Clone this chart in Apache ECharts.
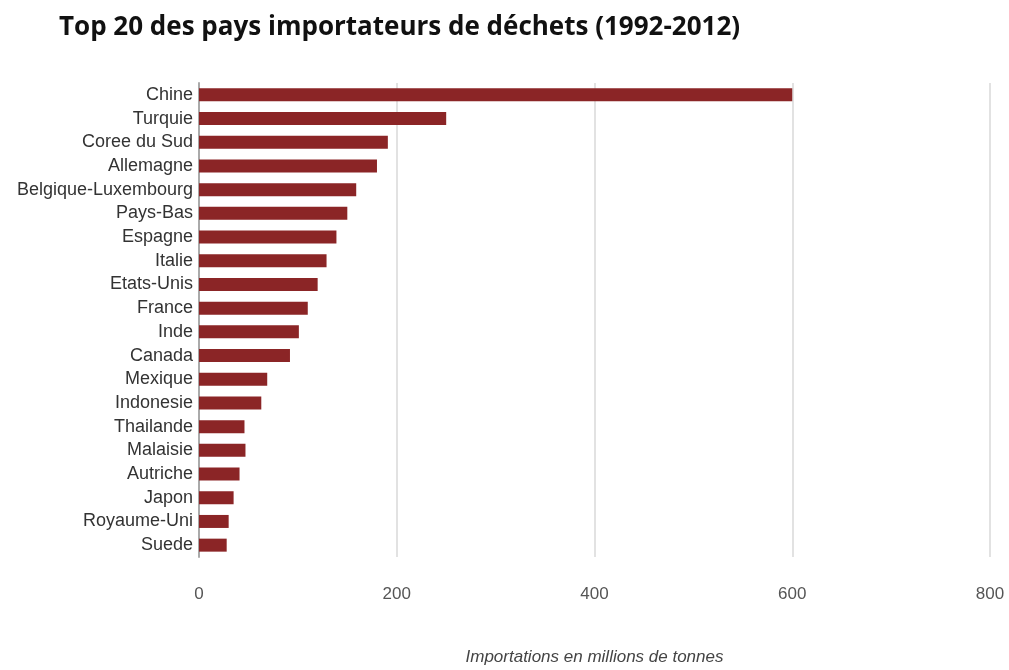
<!DOCTYPE html>
<html>
<head>
<meta charset="utf-8">
<script src="https://cdn.jsdelivr.net/npm/echarts@6/dist/echarts.min.js"></script>
<style>
  html, body { margin: 0; padding: 0; background: #fff; }
  #main { width: 1009px; height: 670px; }
</style>
</head>
<body>
<div id="main"></div>
<script>
// pays, du premier au dernier
const countries = [
  'Chine', 'Turquie', 'Coree du Sud', 'Allemagne', 'Belgique-Luxembourg',
  'Pays-Bas', 'Espagne', 'Italie', 'Etats-Unis', 'France',
  'Inde', 'Canada', 'Mexique', 'Indonesie', 'Thailande',
  'Malaisie', 'Autriche', 'Japon', 'Royaume-Uni', 'Suede'
]
// importations en millions de tonnes
const imports = [
  600, 250, 191, 180, 159,
  150, 139, 129, 120, 110,
  101, 92, 69, 63, 46,
  47, 41, 35, 30, 28
]
const xTicks = [0, 200, 400, 600, 800]

const narrow = '"Liberation Sans Narrow", "Arial Narrow", "Liberation Sans", sans-serif'

const chart = echarts.init(document.getElementById('main'))
chart.setOption({
  animation: false,
  title: {
    text: 'Top 20 des pays importateurs de déchets (1992-2012)',
    left: 54,
    top: 10,
    textStyle: {
      fontFamily: '"Open Sans", sans-serif',
      fontWeight: 'bold',
      fontSize: 26,
      color: '#111'
    }
  },
  grid: {
    left: 199,
    right: 19,
    top: 83,
    bottom: 113,
    containLabel: false,
    outerBoundsMode: 'none'
  },
  xAxis: {
    type: 'value',
    min: xTicks[0],
    max: xTicks[xTicks.length - 1],
    interval: 200,
    name: 'Importations en millions de tonnes',
    nameLocation: 'middle',
    nameGap: 92,
    nameTextStyle: {
      fontFamily: narrow,
      fontStyle: 'italic',
      fontSize: 17,
      color: '#444'
    },
    axisLine: { show: false },
    axisTick: { show: false },
    axisLabel: {
      margin: 29,
      fontFamily: narrow,
      fontSize: 17,
      color: '#555'
    },
    splitLine: { lineStyle: { color: '#e2e2e2', width: 2 } }
  },
  yAxis: {
    type: 'category',
    inverse: true,
    data: countries,
    axisLine: { show: true, lineStyle: { color: '#aaa', width: 2 } },
    axisTick: { show: false },
    axisLabel: {
      interval: 0,
      margin: 6,
      fontFamily: narrow,
      fontSize: 18,
      color: '#333'
    }
  },
  series: [{
    type: 'bar',
    data: imports,
    barWidth: 13,
    itemStyle: { color: '#8b2526' }
  }]
})
</script>
</body>
</html>
